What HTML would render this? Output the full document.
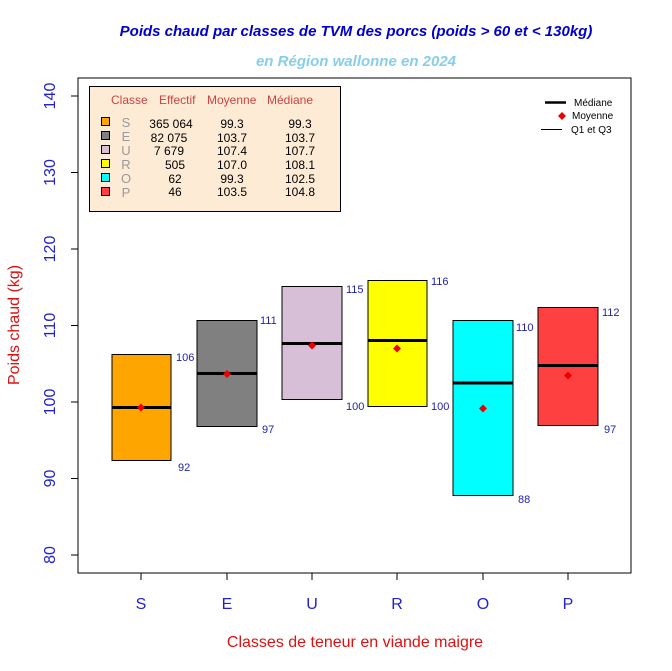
<!DOCTYPE html>
<html><head><meta charset="utf-8"><style>body{margin:0;background:#fff}svg{display:block}</style></head><body>
<svg width="672" height="671" xmlns="http://www.w3.org/2000/svg" font-family="Liberation Sans, Arial, sans-serif">
<rect width="672" height="671" fill="#fff"/>
<text x="356" y="36" text-anchor="middle" font-size="15" font-weight="bold" font-style="italic" fill="#0000cc">Poids chaud par classes de TVM des porcs (poids &gt; 60 et &lt; 130kg)</text>
<text x="356" y="66" text-anchor="middle" font-size="15" font-weight="bold" font-style="italic" fill="#87ceeb">en Région wallonne en 2024</text>
<rect x="78" y="78" width="553" height="495" fill="none" stroke="#000"/>
<g stroke="#000">
<line x1="78" y1="96" x2="78" y2="555"/>
<line x1="71" y1="96" x2="78" y2="96"/><line x1="71" y1="172.5" x2="78" y2="172.5"/><line x1="71" y1="249" x2="78" y2="249"/><line x1="71" y1="325.5" x2="78" y2="325.5"/><line x1="71" y1="402" x2="78" y2="402"/><line x1="71" y1="478.5" x2="78" y2="478.5"/><line x1="71" y1="555" x2="78" y2="555"/>
<line x1="141" y1="573" x2="568" y2="573"/>
<line x1="141" y1="573" x2="141" y2="580"/><line x1="227" y1="573" x2="227" y2="580"/><line x1="312" y1="573" x2="312" y2="580"/><line x1="397" y1="573" x2="397" y2="580"/><line x1="483" y1="573" x2="483" y2="580"/><line x1="568" y1="573" x2="568" y2="580"/>
</g>
<g font-size="16" fill="#2222cc" text-anchor="middle">
<text transform="translate(55,96) rotate(-90)" dy="0">140</text>
<text transform="translate(55,172.5) rotate(-90)">130</text>
<text transform="translate(55,249) rotate(-90)">120</text>
<text transform="translate(55,325.5) rotate(-90)">110</text>
<text transform="translate(55,402) rotate(-90)">100</text>
<text transform="translate(55,478.5) rotate(-90)">90</text>
<text transform="translate(55,555) rotate(-90)">80</text>
<text x="141" y="609">S</text><text x="227" y="609">E</text><text x="312" y="609">U</text><text x="397" y="609">R</text><text x="483" y="609">O</text><text x="568" y="609">P</text>
</g>
<text transform="translate(19,325) rotate(-90)" text-anchor="middle" font-size="16" fill="#dd1111">Poids chaud (kg)</text>
<text x="355" y="647" text-anchor="middle" font-size="16" fill="#dd1111">Classes de teneur en viande maigre</text>
<g stroke="#000">
<rect x="112" y="354.5" width="59" height="106" fill="#ffa500"/>
<rect x="197" y="320.5" width="60" height="106" fill="#808080"/>
<rect x="282" y="286.5" width="60" height="113" fill="#d8bfd8"/>
<rect x="368" y="280.5" width="59" height="126" fill="#ffff00"/>
<rect x="453" y="320.5" width="60" height="175" fill="#00ffff"/>
<rect x="538" y="307.5" width="60" height="118" fill="#ff4040"/>
</g>
<g stroke="#000" stroke-width="3">
<line x1="112" y1="407.5" x2="171" y2="407.5"/>
<line x1="197" y1="373.5" x2="257" y2="373.5"/>
<line x1="282" y1="343.5" x2="342" y2="343.5"/>
<line x1="368" y1="340.5" x2="427" y2="340.5"/>
<line x1="453" y1="383" x2="513" y2="383"/>
<line x1="538" y1="365.5" x2="598" y2="365.5"/>
</g>
<g fill="#ee0000">
<path d="M141 403.5l4 4-4 4-4-4z"/><path d="M227 370l4 4-4 4-4-4z"/><path d="M312 341.5l4 4-4 4-4-4z"/><path d="M397 344.5l4 4-4 4-4-4z"/><path d="M483 404.5l4 4-4 4-4-4z"/><path d="M568 371.5l4 4-4 4-4-4z"/>
</g>
<g font-size="11" fill="#2222aa">
<text x="176" y="361">106</text><text x="178" y="471">92</text>
<text x="260" y="324">111</text><text x="262" y="433">97</text>
<text x="346" y="293">115</text><text x="346" y="410">100</text>
<text x="431" y="285">116</text><text x="431" y="410">100</text>
<text x="516" y="331">110</text><text x="518" y="503">88</text>
<text x="602" y="316">112</text><text x="604" y="433">97</text>
</g>
<rect x="89.5" y="86.5" width="251" height="125" fill="#feebd6" stroke="#000"/>
<g font-size="12" fill="#cc4444"><text x="111" y="104">Classe</text><text x="159" y="104">Effectif</text><text x="207" y="104">Moyenne</text><text x="267" y="104">Médiane</text></g>
<g stroke="#000">
<rect x="101.5" y="117.5" width="8" height="8" fill="#ffa500"/>
<rect x="101.5" y="131.5" width="8" height="8" fill="#808080"/>
<rect x="101.5" y="145.5" width="8" height="8" fill="#d8bfd8"/>
<rect x="101.5" y="159.5" width="8" height="8" fill="#ffff00"/>
<rect x="101.5" y="173.5" width="8" height="8" fill="#00ffff"/>
<rect x="101.5" y="187.5" width="8" height="8" fill="#ff4040"/>
</g>
<g font-size="13" fill="#999" text-anchor="middle"><text x="126" y="127">S</text><text x="126" y="141">E</text><text x="126" y="155">U</text><text x="126" y="169">R</text><text x="126" y="183">O</text><text x="126" y="197">P</text></g>
<g font-size="12" fill="#000" text-anchor="middle">
<text x="171" y="128">365 064</text><text x="232" y="128">99.3</text><text x="300" y="128">99.3</text>
<text x="169" y="142">82 075</text><text x="232" y="142">103.7</text><text x="300" y="142">103.7</text>
<text x="169" y="155">7 679</text><text x="232" y="155">107.4</text><text x="300" y="155">107.7</text>
<text x="175" y="169">505</text><text x="232" y="169">107.0</text><text x="300" y="169">108.1</text>
<text x="175" y="183">62</text><text x="232" y="183">99.3</text><text x="300" y="183">102.5</text>
<text x="175" y="196">46</text><text x="232" y="196">103.5</text><text x="300" y="196">104.8</text>
</g>
<line x1="545" y1="102.5" x2="566" y2="102.5" stroke="#000" stroke-width="2.5"/>
<path d="M562 112l4 4-4 4-4-4z" fill="#ee0000"/>
<line x1="541" y1="129.5" x2="562" y2="129.5" stroke="#000"/>
<g font-size="10" fill="#000"><text x="574" y="106">Médiane</text><text x="572" y="119">Moyenne</text><text x="571" y="133">Q1 et Q3</text></g>
</svg>
</body></html>
